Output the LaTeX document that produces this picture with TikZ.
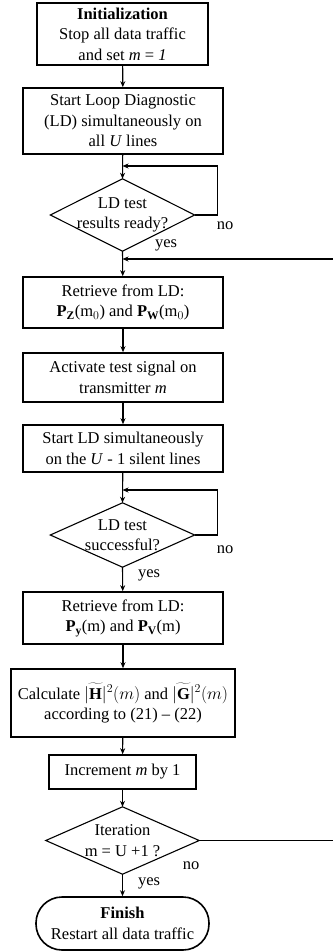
\documentclass[tikz,border=0pt]{standalone}
\usepackage{fontspec}
\setmainfont{Liberation Serif}
\usetikzlibrary{arrows.meta}
\begin{document}
\begin{tikzpicture}[x=1pt,y=-1pt,
  txt/.style={font=\fontsize{16.5}{20.5}\selectfont, align=center, inner sep=0pt},
  proc/.style={txt, draw, line width=1.6pt},
  dec/.style={txt},
  dline/.style={line width=1.1pt, line join=miter},
  arr/.style={line width=1.1pt, -{Stealth[length=6pt,width=5pt]}},
  lbl/.style={txt}]
\useasboundingbox (0,0) rectangle (332,952);
\fill[white] (0,0) rectangle (332,952);

\node[proc, minimum width=171pt, minimum height=62pt] (init) at (122.5,34)
  {\textbf{Initialization}\\Stop all  data traffic\\and set  \textit{m} = \textit{1}};
\node[proc, minimum width=200pt, minimum height=66pt] (start) at (123,121)
  {Start Loop Diagnostic\\(LD) simultaneously  on\\all \textit{U}  lines};
\node[dec, minimum width=144pt, minimum height=72pt] (d1) at (122.5,215)
  {LD test\\results ready?};
\draw[dline] (d1.west) -- (d1.north) -- (d1.east) -- (d1.south) -- cycle;
\node[proc, minimum width=200pt, minimum height=51pt] (ret1) at (123,302.5)
  {Retrieve from  LD:\\\textbf{P}$_{\mathbf{Z}}$(m$_0$) and \textbf{P}$_{\mathbf{W}}$(m$_0$)};
\node[proc, minimum width=200pt, minimum height=49pt] (act) at (123,377.5)
  {Activate test signal  on\\transmitter \textit{m}};
\node[proc, minimum width=200pt, minimum height=47pt] (sld) at (123,448.5)
  {Start LD simultaneously\\on the \textit{U} - 1  silent lines};
\node[dec, minimum width=144pt, minimum height=64pt] (d2) at (122.5,535)
  {LD test\\successful?};
\draw[dline] (d2.west) -- (d2.north) -- (d2.east) -- (d2.south) -- cycle;
\node[proc, minimum width=200pt, minimum height=52pt] (ret2) at (123,618)
  {Retrieve from  LD:\\\textbf{P}$_{\mathbf{y}}$(m) and \textbf{P}$_{\mathbf{V}}$(m)};
\node[proc, minimum width=224pt, minimum height=68pt] (calc) at (123,703)
  {Calculate $\widetilde{|\mathbf{H}|}{}^2(m)$ and  $\widetilde{|\mathbf{G}|}{}^2(m)$\\according  to (21) -- (22)};
\node[proc, minimum width=147pt, minimum height=34pt] (inc) at (122.5,772)
  {Increment \textit{m} by 1};
\node[dec, minimum width=153pt, minimum height=67pt] (d3) at (122.5,840.5)
  {Iteration\\m = U +1 ?};
\draw[dline] (d3.west) -- (d3.north) -- (d3.east) -- (d3.south) -- cycle;
\node[proc, rounded corners=26pt, minimum width=173pt, minimum height=53pt] (fin) at (122.5,923.5)
  {\textbf{Finish}\\Restart all  data traffic};

\coordinate (j1) at (122.5,166);
\coordinate (j2) at (122.5,259);
\coordinate (j3) at (122.5,490);
\coordinate (far) at (340,840.5);

\draw[arr] (init) -- (start);
\draw[arr] (start) -- (d1.north);
\draw[arr] (d1.south) -- (ret1);
\draw[arr] (ret1) -- (act);
\draw[arr] (act) -- (sld);
\draw[arr] (sld) -- (d2.north);
\draw[arr] (d2.south) -- (ret2);
\draw[arr] (ret2) -- (calc);
\draw[arr] (calc) -- (inc);
\draw[arr] (inc) -- (d3.north);
\draw[arr] (d3.south) -- (fin);

\draw[arr] (d1.east) -- ++(23,0) |- (j1);
\draw[arr] (d2.east) -- ++(23,0) |- (j3);
\draw[arr] (d3.east) -- (far) |- (j2);

\node[lbl] (no1) at (225,226) {no};
\node[lbl] (yes1) at (166,245) {yes};
\node[lbl] (no2) at (225,550) {no};
\node[lbl] (yes2) at (149,575) {yes};
\node[lbl] (no3) at (191,866) {no};
\node[lbl] (yes3) at (149,883) {yes};
\end{tikzpicture}
\end{document}
